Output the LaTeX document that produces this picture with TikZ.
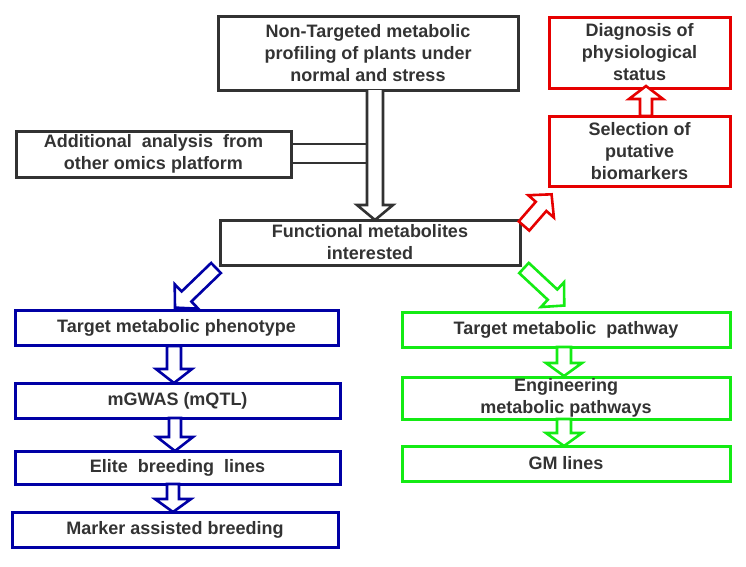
\documentclass[tikz,border=0pt]{standalone}
\usepackage{fontspec}
\setmainfont{Liberation Sans}
\begin{document}
\begin{tikzpicture}[x=1pt,y=-1pt,
  box/.style={draw=#1,line width=3pt,inner sep=0pt,align=center,font=\fontsize{18}{22}\selectfont\bfseries,text=black!80},
  harr/.style={draw=#1,line width=2.6pt,fill=white,line join=miter}]
\definecolor{dg}{RGB}{50,50,50}
\definecolor{bl}{RGB}{0,0,165}
\definecolor{gr}{RGB}{20,235,20}
\definecolor{rd}{RGB}{230,0,0}
\newcommand\myarrow[7]{% color, start, angle, length, half shaft, half head, head length
  \begin{scope}[shift={(#2)},rotate=#3]
  \draw[harr=#1] (0,-#5)--(#4-#7,-#5)--(#4-#7,-#6)--(#4,0)--(#4-#7,#6)--(#4-#7,#5)--(0,#5)--cycle;
  \end{scope}}
\useasboundingbox (0,0) rectangle (746,566);
% boxes
\node[box=dg,minimum width=300pt,minimum height=74pt] (top) at (368,53) {Non-Targeted metabolic\\profiling of plants under\\normal and stress};
\node[box=rd,minimum width=181pt,minimum height=71pt] (diag) at (639.5,52.5) {Diagnosis of\\physiological\\status};
\node[box=rd,minimum width=181pt,minimum height=70pt] (sel) at (639.5,151) {Selection of\\putative\\biomarkers};
\node[box=dg,minimum width=275pt,minimum height=46pt] (add) at (153.5,154) {Additional~ analysis~ from\\other omics platform};
\node[box=dg,minimum width=300pt,minimum height=45pt] (fun) at (370,242.5) {Functional metabolites\\interested};
\node[box=bl,minimum width=323pt,minimum height=35pt] (tp) at (176.5,328) {Target metabolic phenotype};
\node[box=bl,minimum width=325pt,minimum height=35pt] (mg) at (177.5,400.5) {mGWAS (mQTL)};
\node[box=bl,minimum width=325pt,minimum height=33pt] (el) at (177.5,467.5) {Elite~ breeding~ lines};
\node[box=bl,minimum width=326pt,minimum height=35pt] (ma) at (175,529.5) {Marker assisted breeding};
\node[box=gr,minimum width=328pt,minimum height=35pt] (tpw) at (566,329.5) {Target metabolic~ pathway};
\node[box=gr,minimum width=328pt,minimum height=42pt] (eng) at (566,398) {Engineering\\metabolic pathways};
\node[box=gr,minimum width=328pt,minimum height=35pt] (gm) at (566,463.5) {GM lines};
% connectors
\draw[dg,line width=2.6pt] (add.east|-0,144) -- (367,144) (add.east|-0,163) -- (367,163);
\begin{scope}[shift={(375,90)},rotate=-90]
\draw[harr=dg] (0,-8)--(115,-8)--(115,-18)--(130,0)--(115,18)--(115,8)--(0,8);
\end{scope}
\myarrow{rd}{646,116}{90}{30}{6}{17}{13}
\myarrow{rd}{524,226}{49}{42}{7}{17}{16}
\myarrow{bl}{216,268}{-136}{57}{7}{17}{16}
\myarrow{gr}{524,268}{-43}{55}{7}{17}{16}
\myarrow{bl}{174,346}{-90}{37}{7}{18}{14}
\myarrow{bl}{175,418}{-90}{33}{6}{18}{14}
\myarrow{bl}{173,484}{-90}{28}{6}{18}{13}
\myarrow{gr}{564,347}{-90}{29}{7}{18}{13}
\myarrow{gr}{564,419}{-90}{27}{7}{18}{13}
\end{tikzpicture}
\end{document}
